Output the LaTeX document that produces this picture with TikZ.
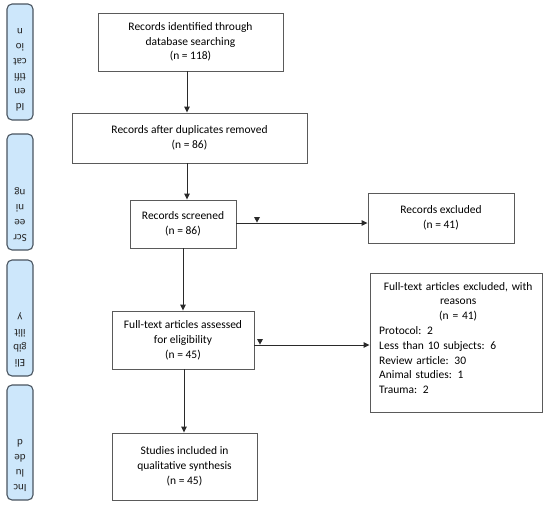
\documentclass[tikz,border=0pt]{standalone}
\usepackage{fontspec}
\setmainfont{Carlito}
\usetikzlibrary{arrows.meta,calc}
\definecolor{sidefill}{HTML}{CDE7FB}
\definecolor{sidedraw}{HTML}{4A5560}
\definecolor{boxdraw}{HTML}{5A5A5A}
\definecolor{linecol}{HTML}{2A2A2A}
\begin{document}
\begin{tikzpicture}[x=1pt,y=-1pt,
  mainbox/.style={draw=boxdraw,line width=0.9pt,fill=white,align=center,inner sep=0pt,
    font=\fontsize{11.5}{14.8}\selectfont,text=black},
  sidebox/.style={draw=sidedraw,line width=1.1pt,fill=sidefill,rounded corners=5pt,
    minimum width=26pt,inner sep=0pt},
  sidetext/.style={rotate=180,anchor=north,align=center,inner sep=0pt,
    font=\fontsize{11}{15}\selectfont,text=black!85},
  arr/.style={draw=linecol,line width=0.9pt,-{Triangle[length=6pt,width=5.5pt]}},
  tick/.style={fill=linecol}]
\useasboundingbox (0,0) rectangle (550,507);

% side boxes
\node[sidebox,minimum height=116pt] (s1) at (20,62) {};
\node[sidebox,minimum height=116pt] (s2) at (20,192) {};
\node[sidebox,minimum height=116pt] (s3) at (20,318) {};
\node[sidebox,minimum height=115pt] (s4) at (20,442.5) {};
\node[sidetext] (t1) at ($(s1.south)+(0,-9)$) {Id\\en\\tifi\\cat\\io\\n};
\node[sidetext] (t2) at ($(s2.south)+(0,-9)$) {Scr\\ee\\ni\\ng};
\node[sidetext] (t3) at ($(s3.south)+(0,-9)$) {Eli\\gib\\ilit\\y};
\node[sidetext] (t4) at ($(s4.south)+(0,-9)$) {Inc\\lu\\de\\d};

% main boxes
\node[mainbox,minimum width=185pt,minimum height=58pt] (A) at (190.5,42)
  {Records identified through\\database searching\\(n = 118)};
\node[mainbox,minimum width=235pt,minimum height=50pt] (B) at (189.5,138)
  {Records after duplicates removed\\(n = 86)};
\node[mainbox,minimum width=106pt,minimum height=48pt] (C) at (183,224)
  {Records screened\\(n = 86)};
\node[mainbox,minimum width=146pt,minimum height=50pt] (D) at (441,218)
  {Records excluded\\(n = 41)};
\node[mainbox,minimum width=142pt,minimum height=58pt] (E) at (183,340)
  {Full-text articles assessed\\for eligibility\\(n = 45)};
\node[mainbox,minimum width=172pt,minimum height=139pt] (F) at (456,342.5) {};
\node[align=left,anchor=north west,inner sep=0pt,text width=158pt,
  font=\fontsize{11.5}{14.8}\selectfont,text=black] (Ft) at (379,282)
  {{\centering Full-text articles excluded, with\\reasons\\(n = 41)\par}
   \raggedright Protocol: 2\\Less than 10 subjects: 6\\Review article: 30\\Animal studies: 1\\Trauma: 2};
\node[mainbox,minimum width=145pt,minimum height=67pt] (G) at (184.5,466.5)
  {Studies included in\\qualitative synthesis\\(n = 45)};

% connectors
\draw[arr] (A.south -| 187,0) -- (B.north -| 187,0);
\draw[arr] (B.south -| 187,0) -- (C.north -| 187,0);
\draw[arr] (C.east |- 0,223) -- (D.west |- 0,223);
\draw[arr] (C.south) -- (E.north);
\draw[arr] (E.east |- 0,345) -- (F.west |- 0,345);
\draw[arr] (E.south -| 184,0) -- (G.north -| 184,0);

% small marks on the horizontal connectors
\coordinate (m1) at (257,223);
\coordinate (m2) at (260,345);
\fill[tick] (m1) ++(-3,-6) -- ++(6,0) -- ++(-3,5.5) -- cycle;
\fill[tick] (m2) ++(-3,-6) -- ++(6,0) -- ++(-3,5.5) -- cycle;
\end{tikzpicture}
\end{document}
